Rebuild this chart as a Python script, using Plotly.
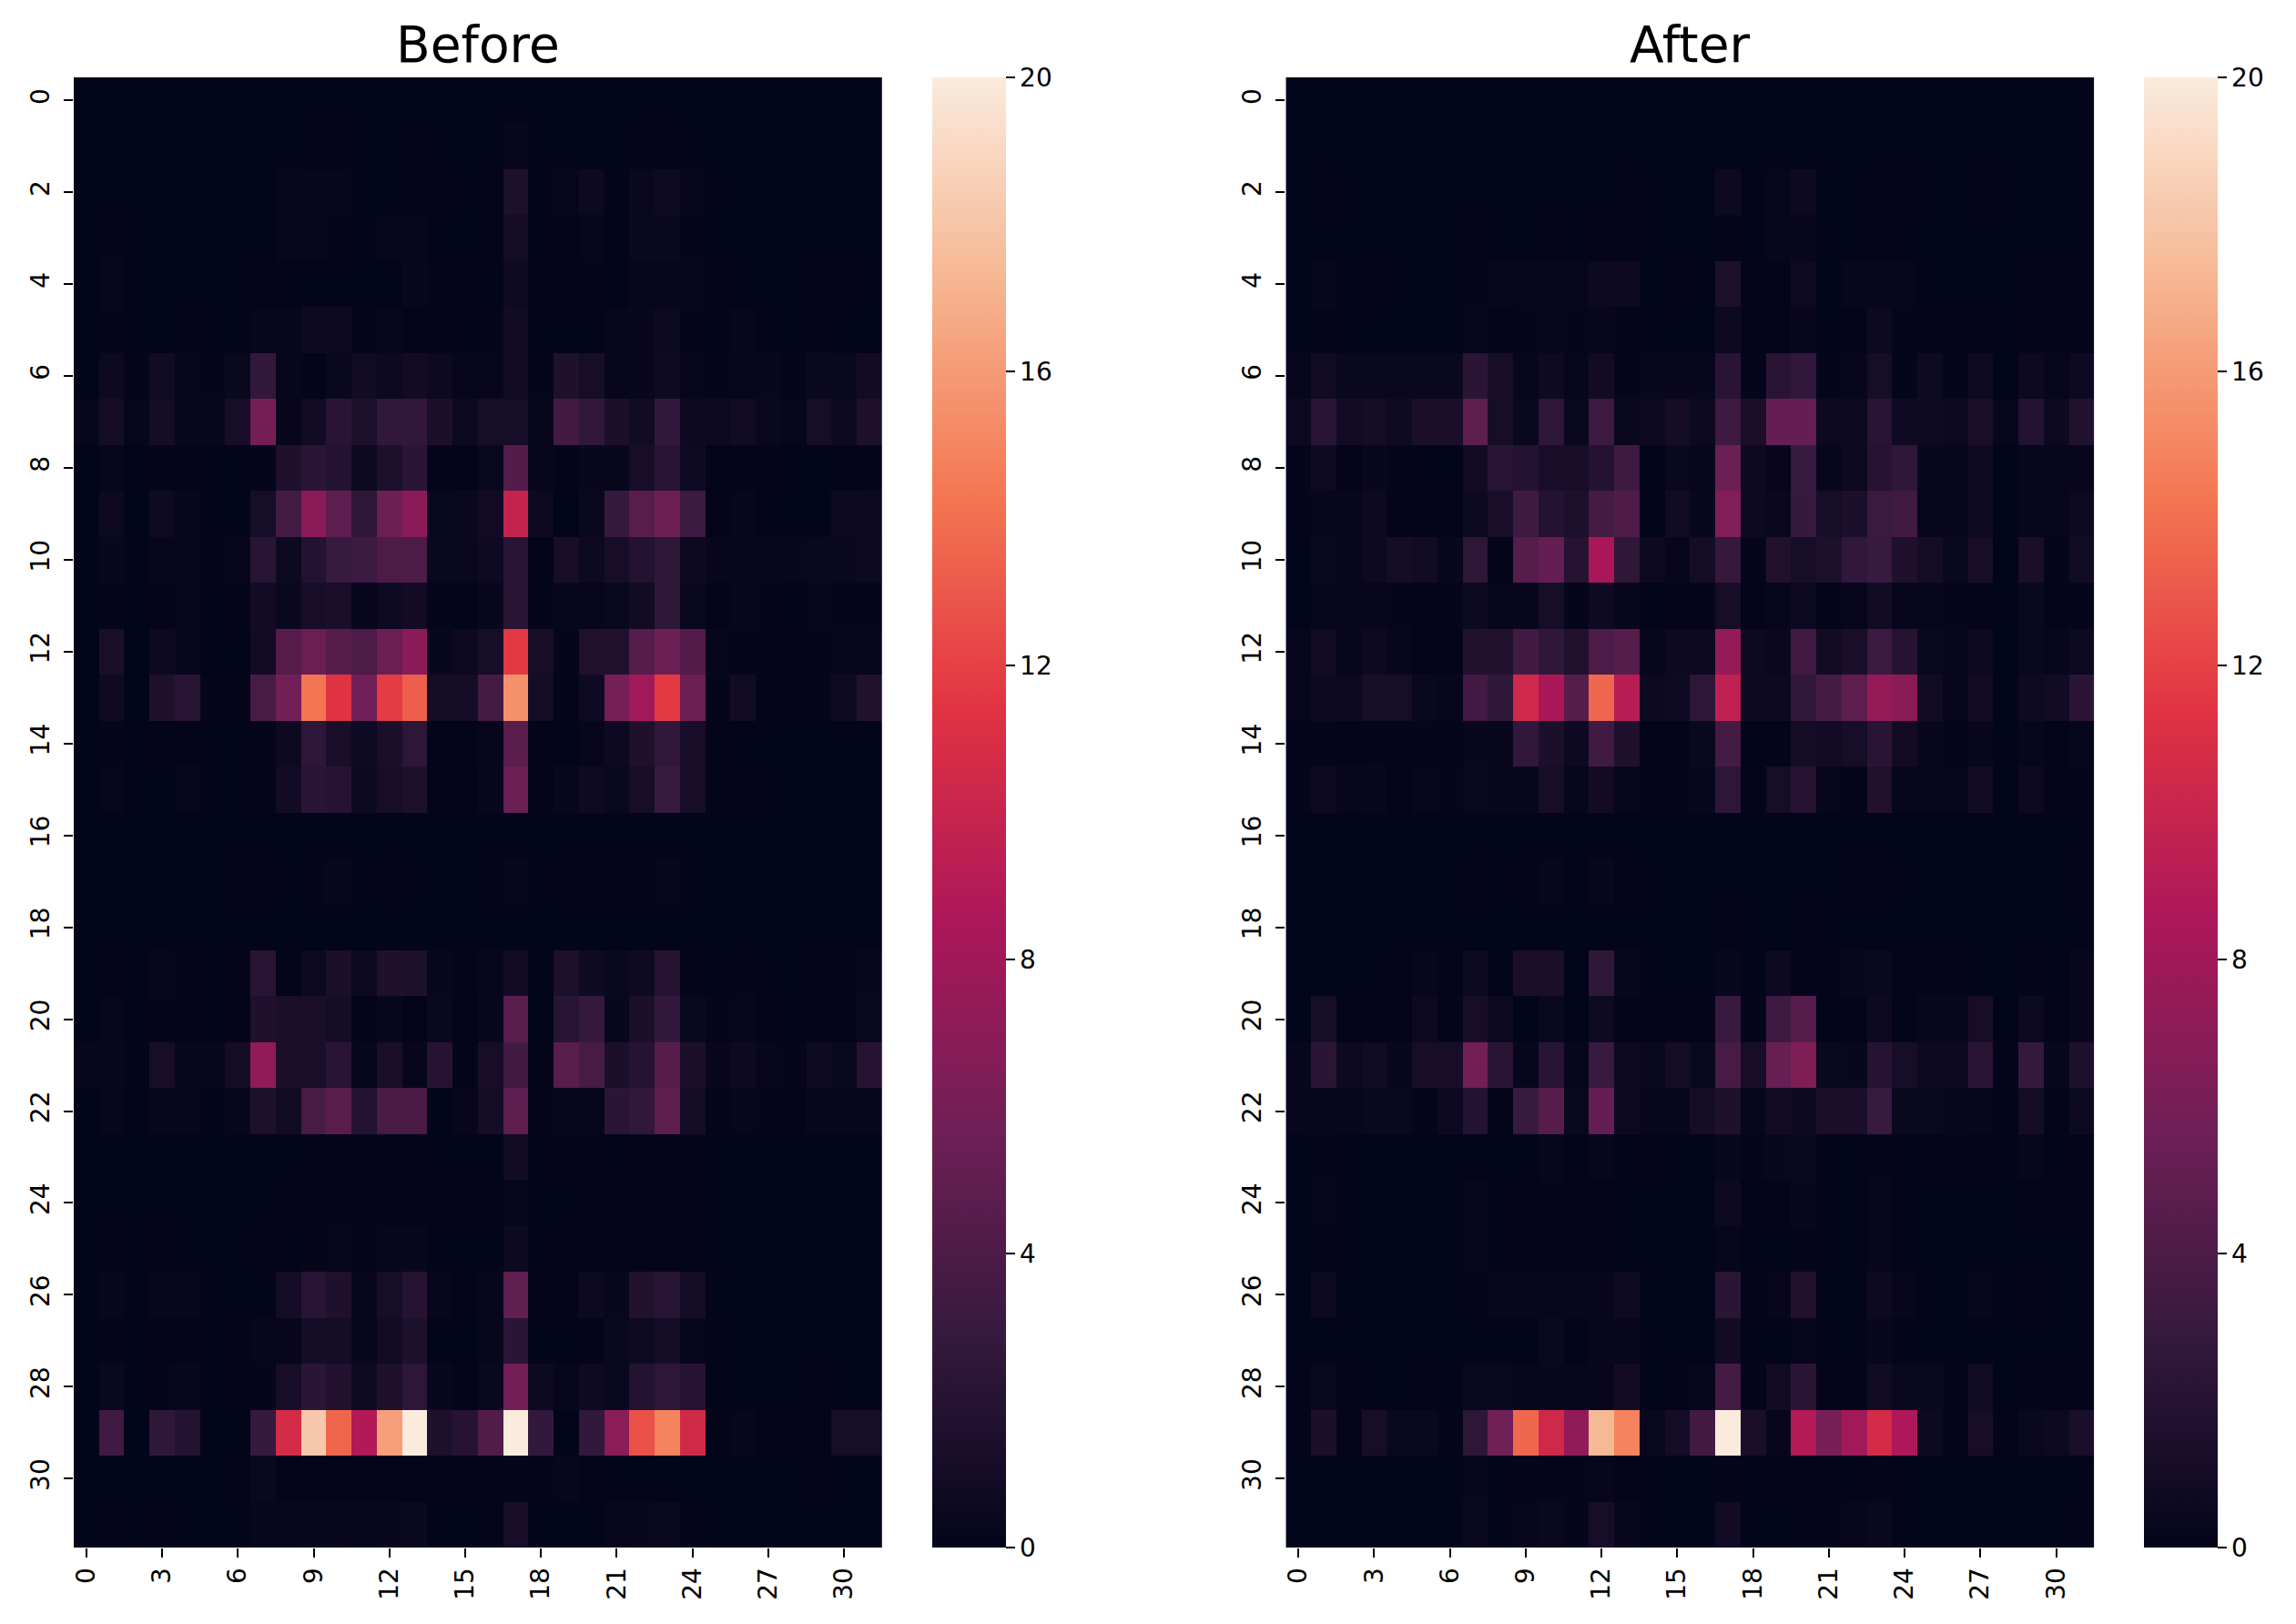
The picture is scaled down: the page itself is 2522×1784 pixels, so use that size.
import plotly.graph_objects as go

# values, one row per line
before_values = [
    [0]*32,
    [0,0,0,0,0,0,0,0,0,.05,.05,0,0,.1,0,0,0,.3,0,0,0,0,.1,.1,0,0,0,0,0,0,0,0],
    [0,0,0,0,0,0,0,0,.2,.3,.3,0,0,.1,.1,0,.05,1.5,0,.2,.5,0,.4,.7,.2,0,0,0,0,0,0,0],
    [0,.1,0,0,0,0,0,0,.2,.2,.1,0,.15,.15,0,0,.05,1.0,0,.05,.15,0,.4,.4,.1,0,0,0,0,0,0,0],
    [0,.15,0,0,0,0,0,.05,.02,.02,.02,.02,.02,.3,.1,.1,0,.7,.1,.1,.1,0,.15,.15,.15,.05,0,0,0,.1,.1,0],
    [0,.1,0,0,.1,0,0,.15,.15,.6,.6,.1,.2,.05,.1,0,.1,.8,0,0,0,.15,.3,.6,.1,0,.15,0,0,.1,0,0],
    [0,.5,.1,.8,.2,.1,.4,2.7,.2,.05,.4,.8,.6,.9,.5,.2,.2,.8,.1,1.6,1.2,.2,.3,.7,.2,.1,.15,.3,.1,.4,.4,.9],
    [.2,1.0,.15,1.0,.3,.3,1.2,5.9,.2,.8,2.2,1.5,2.6,2.6,1.4,.5,1.1,1.1,.3,3.5,2.6,1.4,.8,2.7,.6,.5,.8,.4,.2,1.1,.5,1.6],
    [0,.2,0,.1,.1,0,0,.1,1.6,2.3,1.8,.5,1.5,2.3,.1,.05,.4,4.3,.2,.05,.3,.3,1.2,2.2,.7,0,.05,.05,0,0,.05,.1],
    [0,.5,0,.7,.3,0,0,1.1,3.6,7,4.8,2.4,5.5,7,.4,.4,.9,9.8,.5,0,.4,2.9,4.6,5.5,3.2,.05,.2,0,0,0,.5,.6],
    [0,.3,0,.2,.2,.05,.2,2.1,.5,1.9,3,3.2,4,4,.4,.4,.7,2.2,.05,1.2,.5,1.2,1.8,2.4,.5,.3,.3,.3,.3,.4,.4,.5],
    [0,.1,0,.1,.2,0,.1,.9,.4,1.2,1.3,.3,.7,.9,.1,0,.3,2.2,.1,.2,.2,.4,.8,2.5,.4,.05,.2,.1,0,.2,.1,.1],
    [0,1.3,0,.6,.3,0,0,.9,4.5,5.4,4.4,4.0,5.4,7,.3,.5,1.1,11.7,1.2,.1,1.7,1.7,4.4,5.5,4.3,.2,.1,.1,.05,.1,.2,.2],
    [0,.7,0,1.6,2.1,.1,.1,3.8,5.8,14.2,11.3,5.7,11.8,13.3,1.0,1.0,3.6,15.5,1.0,.1,.7,6,8,11.7,5.5,.1,.8,.05,.05,.1,.7,1.7],
    [0,.1,0,.05,.05,0,0,.1,.6,2.4,1.3,.7,1.3,2.4,.05,.05,.2,4.7,.05,0,.2,.6,1.6,2.6,1.2,.05,.02,0,0,.02,0,0],
    [0,.15,0,0,.2,0,0,.05,.9,2.2,2.0,.6,1.2,1.5,.05,.05,.3,5.4,.05,.3,.7,.4,1.2,3,1.2,.05,.03,0,0,0,0,0],
    [0]*32,
    [0,0,0,0,0,0,.03,.1,0,.1,.3,0,.1,0,0,.02,.05,.15,0,.1,.1,.05,.1,.2,0,0,.02,0,0,.02,0,0],
    [0,0,0,0,0,0,0,0,0,0,0,0,0,0,0,0,0,.02,0,0,0,0,0,0,0,0,0,0,0,0,0,0],
    [0,.05,0,.2,.05,0,.1,2.1,.02,.5,1.4,.5,1.6,1.5,.3,.05,.2,.9,0,1.5,.7,.4,.7,2.0,.05,.02,.1,.02,.02,.1,.1,.3],
    [0,.2,0,.1,.05,0,.05,1.6,1.3,1.3,1.0,.05,.3,.05,.4,0,.3,4.6,0,2.1,2.8,.3,1.4,2.7,.4,.1,.2,.05,0,.05,.05,.4],
    [.2,.3,.02,1.2,.2,.2,1.0,7.2,1.3,1.3,2.2,.2,1.3,.2,2.0,.05,1.2,3.4,.05,4.6,3.7,1.4,2.0,4.5,1.4,.3,.6,.2,.1,.7,.4,2.0],
    [0,.2,0,.2,.3,0,.2,1.5,.8,3.7,4.6,1.8,3.9,3.9,0,.2,1,4.8,.1,.2,.2,2.3,2.6,4.8,1,.05,.2,.1,.05,.3,.3,.3],
    [0,.02,0,.02,.02,0,0,.02,.02,.05,.05,.05,.05,.05,0,0,.02,.8,0,.1,.1,0,.1,.1,.1,0,0,0,0,0,0,0],
    [0,0,0,0,0,0,0,0,.1,.1,.1,.05,.05,.05,.05,.05,.05,.15,0,0,.05,.05,.05,.05,.05,0,0,0,0,0,0,0],
    [0,.1,0,.05,0,0,0,.05,0,.1,.15,.1,.15,.3,0,0,0,.5,0,.05,.05,.05,.05,.05,.05,0,0,0,0,0,0,0],
    [0,.3,0,.15,.15,0,0,0,1.0,2.2,1.6,.3,1.1,2.0,.2,0,.2,5,.05,.1,.5,.3,1.7,2.1,1.0,.02,0,.02,0,0,0,0],
    [0,.1,0,.05,.05,0,.05,.2,.2,1.0,1.0,.3,.9,1.5,0,0,.15,2.3,0,0,.05,.4,.7,1.0,.2,0,0,0,0,0,0,0],
    [0,.4,0,.1,.3,0,.05,.1,1.2,2.3,1.7,.7,1.6,2.4,.3,0,.4,5.8,.6,.2,.7,.4,1.9,2.4,2.0,0,0,0,0,.05,0,0],
    [0,3.4,0,2.5,1.9,0,0,2.9,10.7,18.2,13.6,8.8,16.2,20,1.5,2,4.2,20,2.7,0,2.7,6.95,12.7,14.9,10.5,0,.15,.05,.05,.05,1.1,1.1],
    [0,.02,.02,.02,.02,.02,.05,.4,.05,.05,.05,.05,.05,.05,.05,.05,.05,.1,.05,.15,.05,0,0,0,0,0,0,0,0,.03,0,0],
    [0,.03,0,.03,0,0,0,.15,.15,.25,.3,.15,.3,.4,.02,0,.05,1.2,0,0,.02,.2,.3,.4,.1,0,0,0,0,0,0,0],
]

after_values = [
    [0]*32,
    [0]*32,
    [0,.03,0,0,0,0,0,0,0,0,0,0,0,.1,0,0,0,.6,0,.15,.5,0,0,.05,.1,0,0,.1,0,0,0,0],
    [0,0,0,0,0,0,0,.05,0,0,.05,0,.05,.05,0,0,0,.1,0,.2,.3,0,0,.05,0,0,0,0,0,0,0,0],
    [0,.3,0,.1,0,0,0,.1,.2,.2,.2,.2,.5,.6,0,.05,0,1.5,.1,.05,.7,.02,.2,.2,.2,0,0,0,0,.1,.1,0],
    [0,.1,0,.02,0,0,0,.2,.05,.1,.2,.1,.2,.1,0,0,0,.6,.1,.05,.3,0,.05,.5,.1,.1,.1,.1,0,.1,.1,0],
    [.2,.8,.4,.4,.4,.4,.4,2.3,1.2,.2,.7,.2,.9,.1,.3,.3,.3,2.2,.1,2.2,2.6,.1,.2,1.1,.1,.7,.1,.7,0,.5,.2,.6],
    [.5,2.2,.9,1,.7,1.3,1.3,4.8,1.2,.4,2.4,.4,3.2,.4,.5,1.0,.5,3.2,1.3,5.2,5.2,.5,.5,2.2,.7,.7,.5,1.3,.2,1.8,.5,1.7],
    [.1,.7,.05,.3,.1,0,0,.9,2.1,1.8,1.2,1.2,1.9,3.3,0,.4,.2,5.5,.6,.2,3,.2,.5,2,2.5,.3,.2,.7,0,.2,.2,.2],
    [.1,.3,.3,.5,.1,.05,.05,.5,1.3,3.3,1.8,1.5,3.6,4.1,0,.8,.3,6.5,.6,.4,2.9,1.1,1.4,3.1,3.4,.2,.2,.7,0,.2,.2,.5],
    [.02,.4,.3,.5,1,.8,.3,2.4,.1,4.4,5.2,2,8.4,2.5,.5,.2,1,2.8,.1,1.7,1.1,1.5,2.6,3,1.6,1,.4,1.2,0,1.3,.1,.8],
    [.02,.2,.2,.2,.1,.05,.1,.5,.2,.3,1.1,.1,.7,.3,0,.1,.1,1.2,.05,.2,.6,.1,.2,.8,.2,.2,.1,.1,0,.4,.05,.1],
    [.2,.9,.2,.6,.2,.05,.05,1.7,1.7,3.5,2.5,1.7,4,4.4,.2,.5,.6,7.3,.5,.4,3.4,.8,1.3,3.2,2,.4,.2,.5,0,.4,.2,.5],
    [.2,.5,.5,1.1,1.1,.4,.2,3.5,2.5,10.4,8.4,4.4,13.65,9.1,.5,.7,2.4,9.6,.5,.5,2.7,3.6,4.8,7.4,7,.8,.2,.9,0,.7,.8,2.3],
    [.05,.1,.05,.1,.1,.1,.1,.3,.3,2.6,1.4,.6,3.4,1.6,.05,.05,.4,3.6,0,.05,1,.9,1.1,2.2,.9,.3,.1,.3,0,.2,.05,.15],
    [.1,.5,.2,.3,.05,.2,.1,.4,.3,.3,1.2,.2,.9,.2,.1,.1,.3,2.4,.05,1.1,2,.2,.1,1.7,.2,.2,.2,.8,0,.5,.05,.05],
    [0]*32,
    [0,0,0,0,0,0,0,.1,0,.05,.15,0,.35,.05,0,0,0,0,0,0,0,0,.05,.1,0,0,0,0,0,0,0,.05],
    [0,0,0,0,0,0,0,0,0,0,0,0,0,0,0,0,0,.05,0,0,.03,0,0,0,0,0,0,0,0,0,0,0],
    [0,0,0,.02,.05,.15,.05,.6,0,1.3,1.3,0,2.5,.3,0,0,.02,.3,0,.6,.1,.1,.3,.4,.05,.05,.05,.02,0,.1,.02,.3],
    [0,1.1,.05,.05,.05,.5,.1,1.2,.5,0,.4,0,.7,.05,.05,.05,.05,3.0,.1,3.2,4.4,0,.05,.6,0,.3,.3,1.2,0,.5,.05,.3],
    [.2,2.3,.5,.8,.3,1.2,1.2,5.8,2.2,.2,2.1,.2,3,.5,.4,1,.4,3.8,1.2,5.3,6.4,.4,.3,2,1.2,.5,.6,2.2,.05,2.8,.3,1.5],
    [.2,.2,.2,.4,.4,.1,.6,1.8,.05,3,4.5,.4,5.2,.6,.3,.3,1,1.6,.2,.9,.6,1.4,1.4,3,.4,.4,.2,.3,0,1,.05,.5],
    [0,.1,0,0,0,0,0,.02,.02,.02,.2,0,.2,.02,.03,0,.02,.3,.1,.3,.4,0,.02,.1,.02,.05,.05,.05,0,.2,0,.05],
    [0,.2,0,0,0,0,0,.2,.02,.05,.1,.05,.05,.02,0,0,.02,.6,0,.05,.3,0,0,.2,.02,.02,0,0,0,.05,.05,0],
    [0,.1,0,0,0,0,0,.15,.02,.05,.1,.05,.05,.02,0,0,0,.2,0,.02,.1,0,0,.2,0,0,0,0,0,0,0,0],
    [.02,.5,.02,.02,.02,.02,.02,.1,.2,.2,.2,.2,.2,.7,0,.02,0,2.3,.1,.2,1.7,.02,.02,.5,.2,.02,.02,.3,0,.1,.02,0],
    [0,.02,0,0,0,0,0,.02,.02,.02,.4,.02,.3,.2,0,0,0,.9,0,0,.2,.02,.02,.3,0,0,0,0,0,0,0,0],
    [.05,.4,.1,.02,.02,.05,0,.4,.4,.2,.3,.2,.2,.9,0,.05,.15,3.6,.1,.8,2.2,.05,.1,.8,.4,.4,.1,.8,0,.1,.05,0],
    [.05,1.4,.05,1.2,.4,.4,.1,2.4,5.7,13.7,10.4,7.2,17.4,14.9,.4,1.0,3.5,20,1.3,.2,8.9,6.1,8,10.7,8.6,.5,.1,1.2,.05,.4,.5,1.3],
    [0,.02,.02,.02,.02,.02,.02,.3,.02,.1,.1,.1,.2,.05,0,0,0,.1,0,.1,.1,.1,.02,.1,.02,.02,0,.02,0,0,0,0],
    [0,.02,0,0,.02,0,0,.4,.02,.2,.4,.1,1.2,.3,0,0,.02,.9,0,.02,.1,.1,.2,.4,.02,0,0,0,0,0,0,.1],
]

x_ticks = list(range(0, 32, 3))
y_ticks = list(range(0, 32, 2))
titles = ["Before", "After"]

# seaborn rocket
rocket = [
    [0, "#03051a"], [1/14, "#1c0f2c"], [1/7, "#35193e"], [2/7, "#701f57"],
    [3/7, "#ad1759"], [4/7, "#e13342"], [5/7, "#f37651"], [6/7, "#f6b48f"], [1, "#faebdd"],
]

# the page body has an 8px margin, so the figure sits 8px in from the window
PAGE = 8
W = 2522 - 2 * PAGE
H = 1784 - 2 * PAGE
TOP = 85 - PAGE
BOTTOM = 1700 - PAGE
font = dict(family="DejaVu Sans", size=28, color="black")


def add_panel(fig, values, n, left, right, bar_left):
    left -= PAGE
    right -= PAGE
    bar_left -= PAGE
    fig.add_trace(go.Heatmap(
        z=values,
        x=list(range(32)),
        y=list(range(32)),
        xaxis=f"x{n}",
        yaxis=f"y{n}",
        zmin=0,
        zmax=20,
        colorscale=rocket,
        hoverinfo="skip",
        colorbar=dict(
            x=bar_left / W, xanchor="left", xpad=0, ypad=0,
            y=1 - TOP / H, yanchor="top",
            len=(BOTTOM - TOP) / H, thickness=81,
            outlinewidth=0,
            tick0=0, dtick=4,
            ticks="outside", ticklen=10, tickwidth=2, tickcolor="black",
            tickfont=font,
        ),
    ))
    fig.update_layout({
        f"xaxis{n}": dict(
            domain=[left / W, right / W], range=[-0.5, 31.5], anchor=f"y{n}",
            tickmode="array", tickvals=x_ticks, ticktext=[str(t) for t in x_ticks],
            tickangle=-90, ticks="outside", ticklen=10, tickwidth=2, tickcolor="black",
            tickfont=font, showgrid=False, zeroline=False, showline=False,
        ),
        f"yaxis{n}": dict(
            domain=[1 - BOTTOM / H, 1 - TOP / H], range=[31.5, -0.5], anchor=f"x{n}",
            tickmode="array", tickvals=y_ticks, ticktext=[str(t) for t in y_ticks],
            tickangle=-90, ticks="outside", ticklen=10, tickwidth=2, tickcolor="black",
            tickfont=font, showgrid=False, zeroline=False, showline=False,
            ticklabelstandoff=5,
        ),
    })
    fig.add_annotation(
        text=titles[n - 1], xref="paper", yref="paper",
        x=(left + right) / 2 / W, y=1 - TOP / H, xanchor="center", yanchor="bottom",
        yshift=2, showarrow=False,
        font=dict(family="DejaVu Sans", size=55, color="black"),
    )


fig = go.Figure()
add_panel(fig, before_values, 1, 78, 967, 1022)
add_panel(fig, after_values, 2, 1411, 2300, 2355)

fig.update_layout(
    width=W, height=H,
    margin=dict(l=0, r=0, t=0, b=0),
    paper_bgcolor="white", plot_bgcolor="white",
    font=font,
)

fig.write_html("out.html")
